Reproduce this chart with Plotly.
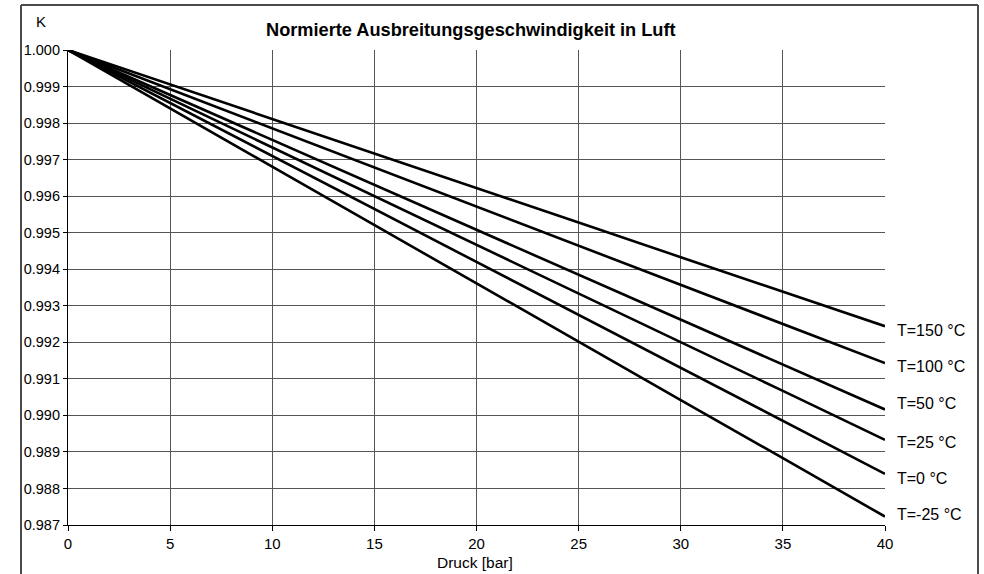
import plotly.graph_objects as go

pressure = [0, 5, 10, 15, 20, 25, 30, 35, 40]
labels = ["T=150 °C", "T=100 °C", "T=50 °C", "T=25 °C", "T=0 °C", "T=-25 °C"]
k_150 = [1.0, 0.99906, 0.99811, 0.99717, 0.99622, 0.99528, 0.99433, 0.99339, 0.99244]
k_100 = [1.0, 0.99893, 0.99786, 0.99679, 0.99572, 0.99464, 0.99357, 0.99250, 0.99143]
k_50 = [1.0, 0.99877, 0.99754, 0.99631, 0.99508, 0.99385, 0.99262, 0.99139, 0.99016]
k_25 = [1.0, 0.99867, 0.99733, 0.99600, 0.99467, 0.99333, 0.99200, 0.99067, 0.98933]
k_0 = [1.0, 0.99855, 0.99710, 0.99565, 0.99420, 0.99275, 0.99130, 0.98985, 0.98840]
k_m25 = [1.0, 0.99840, 0.99681, 0.99521, 0.99362, 0.99202, 0.99042, 0.98883, 0.98723]
series = [k_150, k_100, k_50, k_25, k_0, k_m25]
y_ticks = [0.987, 0.988, 0.989, 0.990, 0.991, 0.992, 0.993, 0.994, 0.995, 0.996, 0.997, 0.998, 0.999, 1.000]
x_ticks = [0, 5, 10, 15, 20, 25, 30, 35, 40]

# label vertical nudges (pixels, style only)
label_yshift = [-4, -3, 6, -3, -5, 2]

FONT = "Liberation Sans, Arial, sans-serif"

W, H = 984, 574
PL, PR, PT, PB = 68, 885, 50, 525  # plot area in window pixels
PW, PH = PR - PL, PB - PT


def px(xw):
    return (xw - PL) / PW


def py(yw):
    return (PB - yw) / PH


fig = go.Figure()
for name, vals, ys in zip(labels, series, label_yshift):
    fig.add_trace(go.Scatter(x=pressure, y=vals, mode="lines", name=name,
                             line=dict(color="black", width=2.6), showlegend=False))
    fig.add_annotation(x=pressure[-1], y=vals[-1], xref="x", yref="y", text=name,
                       showarrow=False, xanchor="left", yanchor="middle", xshift=10, yshift=ys,
                       font=dict(family=FONT, size=16, color="black"))

fig.add_annotation(x=px(41), y=py(22), xref="paper", yref="paper", text="K",
                   showarrow=False, xanchor="center", yanchor="middle",
                   font=dict(family=FONT, size=15, color="black"))
fig.add_annotation(x=px(471), y=py(30), xref="paper", yref="paper",
                   text="<b>Normierte Ausbreitungsgeschwindigkeit in Luft</b>",
                   showarrow=False, xanchor="center", yanchor="middle",
                   font=dict(family=FONT, size=18.2, color="black"))
fig.add_annotation(x=px(475), y=py(562), xref="paper", yref="paper",
                   text="Druck [bar]", showarrow=False, xanchor="center", yanchor="middle",
                   font=dict(family=FONT, size=15.5, color="black"))

# outer frame
frame = dict(color="#4a4a4a", width=2)
fig.add_shape(type="line", xref="paper", yref="paper", x0=px(21), x1=px(21),
              y0=py(574), y1=py(5), line=frame)
fig.add_shape(type="line", xref="paper", yref="paper", x0=px(978), x1=px(978),
              y0=py(574), y1=py(5), line=frame)
fig.add_shape(type="line", xref="paper", yref="paper", x0=px(21), x1=px(978),
              y0=py(5), y1=py(5), line=frame)

fig.update_layout(
    width=W, height=H,
    margin=dict(l=PL, r=W - PR, t=PT, b=H - PB),
    paper_bgcolor="white", plot_bgcolor="white",
    font=dict(family=FONT, size=14.5, color="black"),
)
fig.update_xaxes(range=[0, 40], tickvals=x_ticks, ticktext=[str(v) for v in x_ticks],
                 showgrid=True, gridcolor="#555555", gridwidth=1,
                 showline=True, linecolor="black", linewidth=1.2,
                 ticks="outside", ticklen=5, tickcolor="black", zeroline=False,
                 tickfont=dict(family=FONT, size=15, color="black"))
fig.update_yaxes(range=[0.987, 1.000], tickvals=y_ticks, ticktext=[f"{v:.3f}" for v in y_ticks],
                 showgrid=True, gridcolor="#555555", gridwidth=1,
                 showline=True, linecolor="black", linewidth=1.2,
                 ticks="outside", ticklen=4, tickcolor="black", zeroline=False,
                 tickfont=dict(family=FONT, size=14.5, color="black"))

fig.write_html("out.html", config={"displayModeBar": False},
               post_script="document.body.style.margin='0px';document.body.style.overflow='hidden';")
